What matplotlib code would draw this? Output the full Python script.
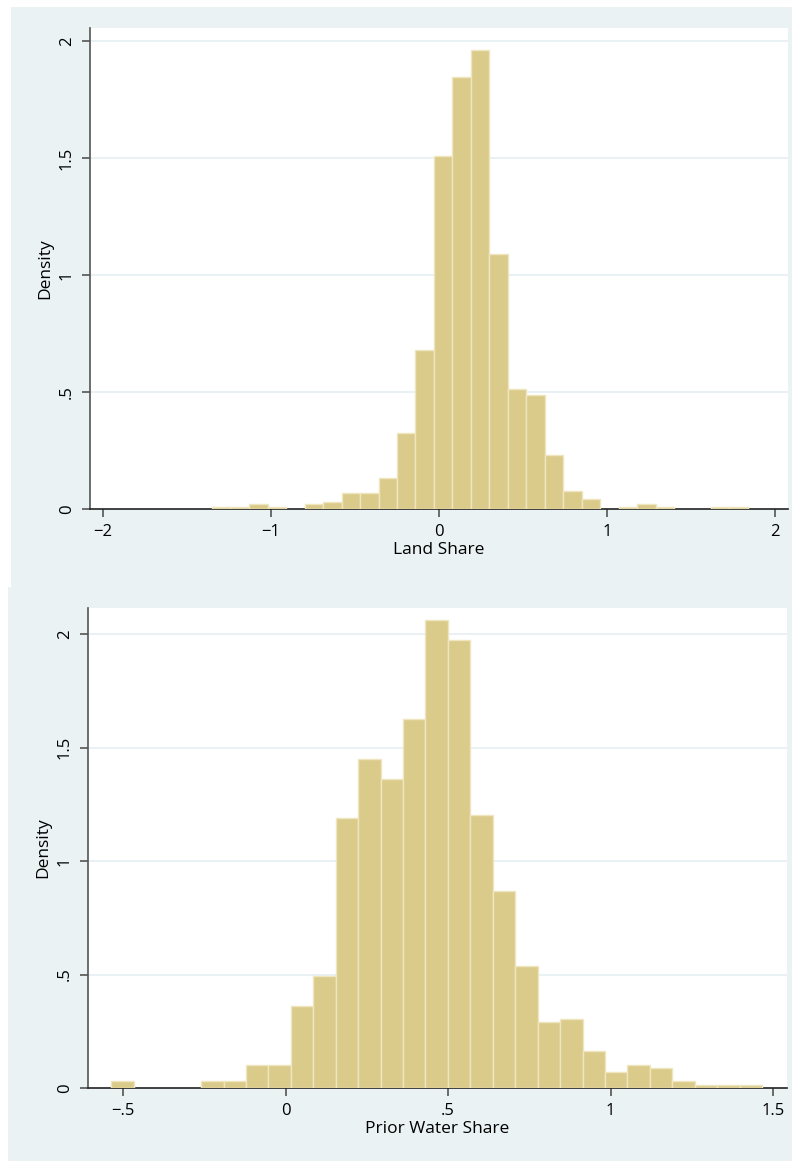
import numpy as np
import matplotlib
matplotlib.use('Agg')
import matplotlib.pyplot as plt
from matplotlib.patches import Rectangle

# ---- data ----
land_density = [0.010, 0.010, 0.020, 0.010, 0.0, 0.020, 0.030, 0.067, 0.067, 0.131,
                0.323, 0.678, 1.508, 1.846, 1.964, 1.088, 0.514, 0.487, 0.232, 0.077,
                0.041, 0.0, 0.010, 0.020, 0.010, 0.0, 0.0, 0.010, 0.010]
land_range = (-1.349, 1.838)

water_density = [0.029, 0.0, 0.0, 0.0, 0.029, 0.029, 0.100, 0.100, 0.361, 0.493,
                 1.189, 1.449, 1.363, 1.626, 2.060, 1.974, 1.204, 0.870, 0.537, 0.290,
                 0.306, 0.162, 0.072, 0.101, 0.087, 0.029, 0.015, 0.015, 0.015]
water_range = (-0.536, 1.466)

yticks = [0, 0.5, 1, 1.5, 2]
ytick_labels = ['0', '.5', '1', '1.5', '2']
land_xticks = [-2, -1, 0, 1, 2]
land_xtick_labels = ['\u22122', '\u22121', '0', '1', '2']
water_xticks = [-0.5, 0, 0.5, 1, 1.5]
water_xtick_labels = ['\u2212.5', '0', '.5', '1', '1.5']

# ---- style ----
plt.rcParams['font.family'] = ['Open Sans', 'DejaVu Sans']
BG = '#eaf2f3'
GRID = '#e6eff2'
BAR = '#dbcb8b'
BAR_EDGE = '#efe6c0'
AXC = '#555555'

W, H = 792, 1161
fig = plt.figure(figsize=(W / 100, H / 100), dpi=100)
fig.patch.set_facecolor('white')


def fx(px):
    return px / W


def fy(py):
    return 1 - py / H


# background panels
fig.patches.append(Rectangle((fx(11), fy(587)), fx(792 - 11) + 0.01, (587 - 7) / H,
                             transform=fig.transFigure, facecolor=BG, edgecolor='none', zorder=-10))
fig.patches.append(Rectangle((fx(8), 0), fx(792 - 8) + 0.01, (1161 - 587) / H,
                             transform=fig.transFigure, facecolor=BG, edgecolor='none', zorder=-10))


def make_panel(rect_px, dens, rng, xlim, ylim, xticks, xlabels, xlabel):
    l, t, r, b = rect_px
    ax = fig.add_axes([fx(l), fy(b), (r - l) / W, (b - t) / H])
    ax.set_zorder(5)
    ax.set_facecolor('white')
    dens = np.asarray(dens)
    edges = np.linspace(rng[0], rng[1], len(dens) + 1)
    mask = dens > 0
    ax.bar(edges[:-1][mask], dens[mask], width=np.diff(edges)[mask], align='edge',
           color=BAR, edgecolor=BAR_EDGE, linewidth=1.0, zorder=3)
    ax.set_xlim(*xlim)
    ax.set_ylim(*ylim)
    ax.set_yticks(yticks)
    ax.set_yticklabels(ytick_labels)
    ax.set_xticks(xticks)
    ax.set_xticklabels(xlabels)
    for y in yticks[1:]:
        ax.axhline(y, color=GRID, linewidth=1.2, zorder=1)
    for s in ['top', 'right']:
        ax.spines[s].set_visible(False)
    ax.spines['left'].set_color(AXC)
    ax.spines['left'].set_linewidth(1.2)
    ax.spines['bottom'].set_color('#222222')
    ax.spines['bottom'].set_linewidth(1.2)
    ax.tick_params(axis='both', direction='out', length=6, width=1.2, color=AXC,
                   labelsize=12, pad=5)
    ax.tick_params(axis='y', labelrotation=90)
    for lab in ax.get_yticklabels():
        lab.set_va('center')
    ax.set_xlabel(xlabel, fontsize=12.5, labelpad=1)
    ax.set_ylabel('Density', fontsize=12.5, labelpad=4)
    return ax


make_panel((90, 28, 788, 509), land_density, land_range,
           (-2.077, 2.077), (0, 2.056), land_xticks, land_xtick_labels, 'Land Share')
make_panel((88, 608, 787, 1088), water_density, water_range,
           (-0.608, 1.543), (0, 2.115), water_xticks, water_xtick_labels, 'Prior Water Share')

fig.savefig('out.png', dpi=100)
